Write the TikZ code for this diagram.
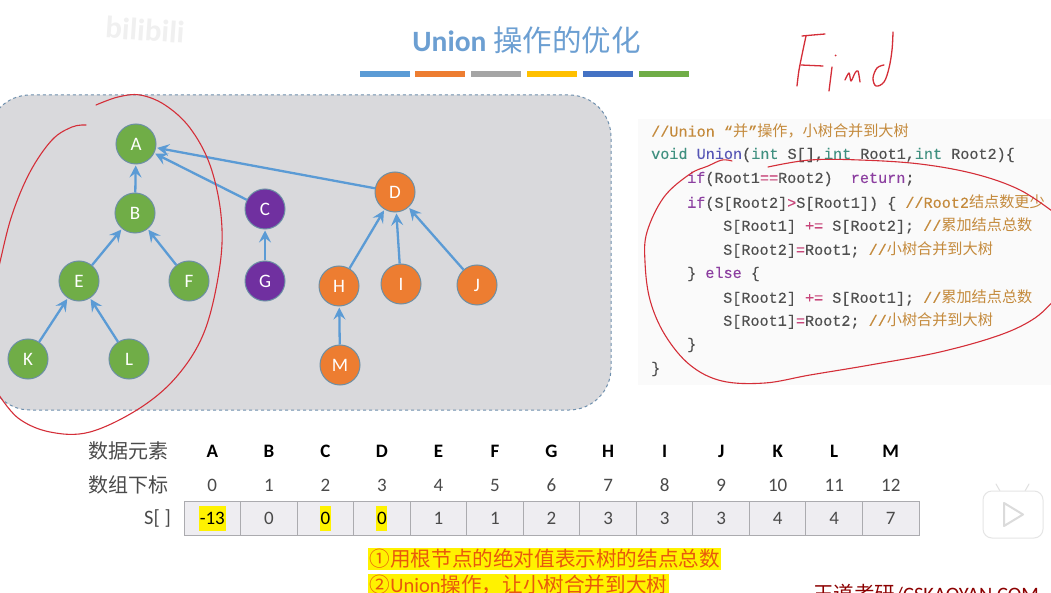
\documentclass[tikz,border=0pt]{standalone}
\usepackage{fontspec}
\usetikzlibrary{arrows.meta}
\setmainfont{Carlito}
\newfontfamily\cjkfont{Noto Sans CJK SC}
\newfontfamily\codefont{Liberation Mono}[FakeBold=0.25]
\definecolor{titleblue}{HTML}{6C9FD2}
\definecolor{panelgray}{HTML}{D9D9DC}
\definecolor{panelline}{HTML}{6F90AE}
\definecolor{edgeblue}{HTML}{5B9BD5}
\definecolor{nodegreen}{HTML}{70AD47}
\definecolor{nodepurple}{HTML}{7030A0}
\definecolor{nodeorange}{HTML}{ED7D31}
\definecolor{noderim}{HTML}{6C8FA5}
\definecolor{inkred}{HTML}{D42E38}
\definecolor{codegray}{HTML}{505050}
\definecolor{codecomment}{HTML}{C48A3C}
\definecolor{codetype}{HTML}{3F9080}
\definecolor{codename}{HTML}{5555B5}
\definecolor{codekey}{HTML}{8C3FA0}
\definecolor{codeop}{HTML}{C8457A}
\definecolor{cellfill}{HTML}{EEEDF1}
\definecolor{cellline}{HTML}{ABABAF}
\definecolor{labelgray}{HTML}{4A4A4A}
\definecolor{noteorange}{HTML}{E8590C}
\definecolor{baryellow}{HTML}{FFC000}
\definecolor{bardark}{HTML}{4472C4}
\definecolor{bargray}{HTML}{A5A5A5}
\newcommand{\cj}[1]{{\cjkfont #1}}
\newcommand{\kw}[1]{\textcolor{codekey}{#1}}
\newcommand{\ty}[1]{\textcolor{codetype}{#1}}
\newcommand{\cm}[1]{\textcolor{codecomment}{#1}}
\newcommand{\op}[1]{\textcolor{codeop}{#1}}
\tikzset{
  treenode/.style={circle,minimum size=40pt,inner sep=0pt,draw=noderim,line width=1pt,text=white,font=\fontsize{19}{21}\selectfont},
  gnode/.style={treenode,fill=nodegreen},
  pnode/.style={treenode,fill=nodepurple},
  onode/.style={treenode,fill=nodeorange},
  link/.style={draw=edgeblue,line width=2.3pt,-{Stealth[length=12pt,width=12pt,inset=4.5pt]},shorten >=1pt},
  ink/.style={draw=inkred,line width=1.1pt,line cap=round,line join=round},
  codeline/.style={anchor=west,inner sep=0pt,text=codegray,font=\codefont\fontsize{15.15}{18}\selectfont},
  bar/.style={minimum width=50pt,minimum height=6pt,inner sep=0pt},
  cell/.style={draw=cellline,line width=1pt,fill=cellfill,minimum width=56.54pt,minimum height=34pt,inner sep=0pt},
  headtext/.style={inner sep=0pt,text=black,font=\bfseries\fontsize{19}{22}\selectfont},
  numtext/.style={inner sep=0pt,text=labelgray,font=\fontsize{19}{22}\selectfont},
  marked/.style={numtext,fill=yellow,minimum height=25pt,text=black},
  sidelabel/.style={anchor=east,inner sep=0pt,text=labelgray,font=\cjkfont\fontsize{20}{22}\selectfont},
  note/.style={anchor=west,inner sep=1.5pt,fill=yellow,text=noteorange,font=\cjkfont\fontsize{20.6}{23}\selectfont},
}
\begin{document}
\begin{tikzpicture}[x=1pt,y=-1pt]
\useasboundingbox (0,0) rectangle (1051,593);
\path[clip] (0,0) rectangle (1051,593);
\fill[white] (0,0) rectangle (1051,593);
% watermark
\node[rotate=-4,text=black!6,inner sep=0pt,font=\bfseries\fontsize{31}{33}\selectfont] (wm) at (145,30) {bilibili};
% title
\node[inner sep=0pt,text=titleblue,font=\bfseries\fontsize{29.5}{32}\selectfont] (title) at (526.5,40) {Union \cj{\mdseries 操作的优化}};
\node[bar,fill=edgeblue] (b1) at (385,74) {};
\node[bar,fill=nodeorange] (b2) at (440,74) {};
\node[bar,fill=bargray] (b3) at (496,74) {};
\node[bar,fill=baryellow] (b4) at (552,74) {};
\node[bar,fill=bardark] (b5) at (608,74) {};
\node[bar,fill=nodegreen] (b6) at (664,74) {};
% panel
\path[fill=panelgray,draw=panelline,line width=1pt,dashed,rounded corners=42pt] (-12,95) rectangle (611,410);
% code background
\fill[black!2] (638,119) rectangle (1051,385);
% tree
\node[gnode] (A) at (136,144) {A};
\node[gnode] (B) at (135,213) {B};
\node[pnode] (C) at (265,209) {C};
\node[onode] (D) at (395,192) {D};
\node[gnode] (E) at (79,281) {E};
\node[gnode] (F) at (189,281) {F};
\node[pnode] (G) at (265,281) {G};
\node[onode] (H) at (339,286) {H};
\node[onode] (I) at (401,284) {I};
\node[onode] (J) at (477,285) {J};
\node[gnode] (K) at (28,359) {K};
\node[gnode] (L) at (129,359) {L};
\node[onode] (M) at (340,365) {M};
\foreach \s/\t in {B/A,C/A,D/A,E/B,F/B,G/C,H/D,I/D,J/D,K/E,L/E,M/H}
  \draw[link] (\s) -- (\t);
% code
\node[codeline] (c1) at (651,131) {\cm{//Union “\cj{并}”\cj{操作，小树合并到大树}}};
\node[codeline] (c2) at (651,155) {\ty{void} \textcolor{codename}{Union}(\ty{int} S[],\ty{int} Root1,\ty{int} Root2)\{};
\node[codeline] (c3) at (687,179) {\kw{if}(Root1\op{==}Root2)\ \ \kw{return};};
\node[codeline] (c4) at (687,203) {\kw{if}(S[Root2]\op{>}S[Root1]) \{ \cm{//Root2\cj{结点数更少}}};
\node[codeline] (c5) at (723,226) {S[Root1] \op{+=} S[Root2]; \cm{//\cj{累加结点总数}}};
\node[codeline] (c6) at (723,250) {S[Root2]\op{=}Root1; \cm{//\cj{小树合并到大树}}};
\node[codeline] (c7) at (687,274) {\} \kw{else} \{};
\node[codeline] (c8) at (723,298) {S[Root2] \op{+=} S[Root1]; \cm{//\cj{累加结点总数}}};
\node[codeline] (c9) at (723,321) {S[Root1]\op{=}Root2; \cm{//\cj{小树合并到大树}}};
\node[codeline] (c10) at (687,345) {\}};
\node[codeline] (c11) at (651,369) {\}};
% table
\node[sidelabel] (lab1) at (169,451) {数据元素};
\node[sidelabel] (lab2) at (169,485) {数组下标};
\node[sidelabel,font=\fontsize{20.5}{22}\selectfont] (lab3) at (171,518) {S[ ]};
\foreach \i/\h in {0/A,1/B,2/C,3/D,4/E,5/F,6/G,7/H,8/I,9/J,10/K,11/L,12/M}{
  \pgfmathsetmacro{\cx}{212.3+56.54*\i}
  \node[cell] (cell\i) at (\cx,518) {};
  \node[headtext] (head\i) at (\cx,451) {\h};
  \node[numtext] (idx\i) at (\cx,485) {\i};
}
\foreach \i/\v in {1/0,4/1,5/1,6/2,7/3,8/3,9/3,10/4,11/4,12/7}
  \node[numtext] (val\i) at (cell\i) {\v};
\node[marked,minimum width=27pt] (val0) at (cell0) {-13};
\node[marked,minimum width=11pt] (val2) at (cell2) {0};
\node[marked,minimum width=11pt] (val3) at (cell3) {0};
% notes
\node[note] (n2) at (368,585) {②\fontspec{Carlito}Union\cjkfont 操作，让小树合并到大树};
\node[note] (n1) at (368,559) {①用根节点的绝对值表示树的结点总数};
\node[anchor=west,inner sep=0pt,text=red!55!black,font=\fontspec{Carlito}\fontsize{20.5}{22}\selectfont] (brand) at (813,594) {\cj{王道考研}/CSKAOYAN.COM};
% play icon
\draw[black!12,fill=white,line width=1pt,line cap=round] (1000,491) -- (996,484) (1025,491) -- (1029,484);
\node[draw=black!10,fill=white,line width=1pt,rounded corners=9pt,minimum width=60pt,minimum height=47pt,inner sep=0pt] (play) at (1013,514.5) {};
\draw[black!14,line width=2pt,line join=round] (1004,503) -- (1023,514.5) -- (1004,526) -- cycle;
% handwriting: circles
\draw[ink] plot[smooth,tension=0.6] coordinates {(96,105) (118,97) (140,95) (165,105) (190,128) (210,165) (221,215) (220,265) (205,330) (178,375) (140,408) (90,432) (50,432) (18,418) (-3,392)};
\draw[ink] plot[smooth,tension=0.6] coordinates {(86,125) (72,127) (52,140) (30,172) (12,215) (0,262) (-8,300)};
\draw[ink] plot[smooth,tension=0.6] coordinates {(732,161) (722,160) (708,166) (690,174) (664,197) (647,232) (645,262) (650,300) (665,335) (690,365) (722,381) (765,383) (810,375) (870,365) (940,352) (1000,335) (1035,318) (1056,298)};
\draw[ink] plot[smooth,tension=0.6] coordinates {(768,167) (810,160) (860,160) (920,164) (975,174) (1020,190) (1056,214)};
% handwriting: Find
\draw[ink,line width=1.3pt] (802,36) -- (813,35) -- (825,34);
\draw[ink,line width=1.3pt] plot[smooth] coordinates {(806,36) (803,50) (799,70) (797,86)};
\draw[ink,line width=1.3pt] (801,65) -- (823,66);
\fill[inkred] (835.5,55.5) circle (1pt);
\draw[ink,line width=1.3pt] (832,67) -- (829,91);
\draw[ink,line width=1.3pt] plot[smooth,tension=0.5] coordinates {(845,80) (849,73) (851,81) (855,73) (858,71) (860,82)};
\draw[ink,line width=1.3pt] plot[smooth,tension=0.6] coordinates {(893,32) (892,50) (889,68) (884,82) (876,86) (873,78) (877,68) (884,65)};
\end{tikzpicture}
\end{document}
